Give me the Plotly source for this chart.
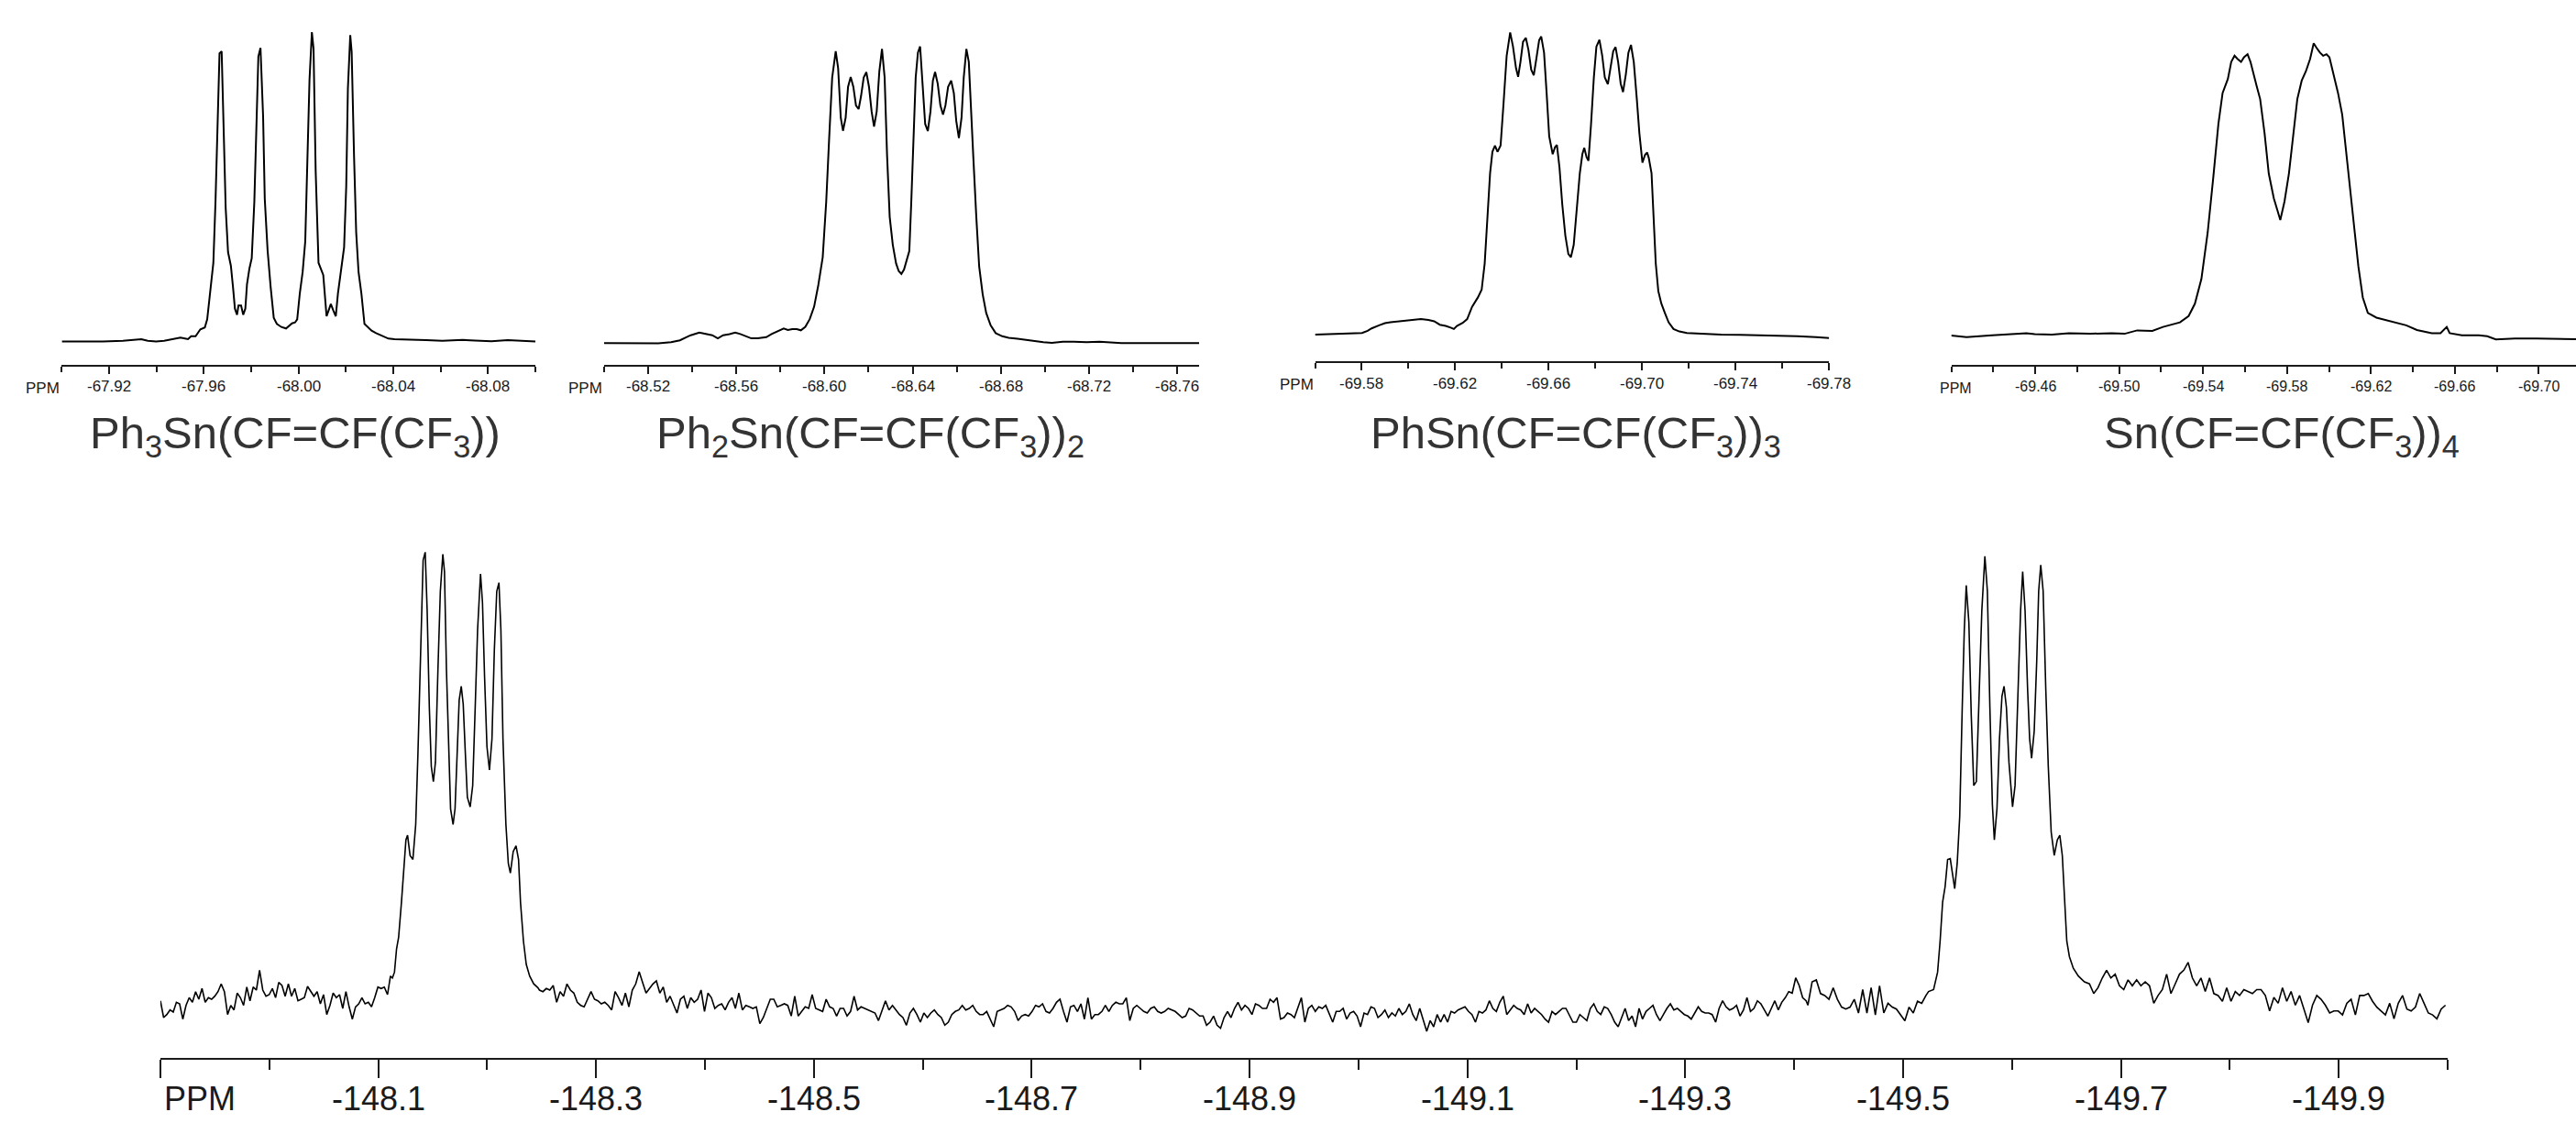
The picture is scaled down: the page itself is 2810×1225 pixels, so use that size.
import numpy as np
import plotly.graph_objects as go

# ---------------- data (ppm, intensity) ----------------
titles = ["Ph<sub>3</sub>Sn(CF=CF(CF<sub>3</sub>))",
          "Ph<sub>2</sub>Sn(CF=CF(CF<sub>3</sub>))<sub>2</sub>",
          "PhSn(CF=CF(CF<sub>3</sub>))<sub>3</sub>",
          "Sn(CF=CF(CF<sub>3</sub>))<sub>4</sub>"]

p1_ticks = [-67.92, -67.96, -68.00, -68.04, -68.08]
p1_labels = ["-67.92", "-67.96", "-68.00", "-68.04", "-68.08"]
p2_ticks = [-68.52, -68.56, -68.60, -68.64, -68.68, -68.72, -68.76]
p2_labels = ["-68.52", "-68.56", "-68.60", "-68.64", "-68.68", "-68.72", "-68.76"]
p3_ticks = [-69.58, -69.62, -69.66, -69.70, -69.74, -69.78]
p3_labels = ["-69.58", "-69.62", "-69.66", "-69.70", "-69.74", "-69.78"]
p4_ticks = [-69.46, -69.50, -69.54, -69.58, -69.62, -69.66, -69.70]
p4_labels = ["-69.46", "-69.50", "-69.54", "-69.58", "-69.62", "-69.66", "-69.70"]
bottom_ticks = [-147.9, -148.1, -148.3, -148.5, -148.7, -148.9, -149.1, -149.3, -149.5, -149.7, -149.9]
bottom_labels = ["PPM", "-148.1", "-148.3", "-148.5", "-148.7", "-148.9", "-149.1", "-149.3", "-149.5", "-149.7", "-149.9"]

p1_ppm = [-67.9000, -67.9084, -67.9173, -67.9258, -67.9308, -67.9336, -67.9363, -67.9398, -67.9432,
          -67.9475, -67.9501, -67.9520, -67.9533, -67.9546, -67.9565, -67.9585, -67.9604, -67.9614, -67.9627,
          -67.9640, -67.9649, -67.9658, -67.9666, -67.9675, -67.9684, -67.9692, -67.9702, -67.9714, -67.9723,
          -67.9731, -67.9740, -67.9746, -67.9757, -67.9766, -67.9775, -67.9782, -67.9792, -67.9802, -67.9813,
          -67.9821, -67.9830, -67.9839, -67.9850, -67.9857, -67.9869, -67.9882, -67.9895, -67.9908, -67.9927,
          -67.9947, -67.9959, -67.9972, -67.9985, -67.9994, -68.0005, -68.0017, -68.0028, -68.0037, -68.0046,
          -68.0056, -68.0063, -68.0072, -68.0084, -68.0104, -68.0110, -68.0118, -68.0127, -68.0136, -68.0146,
          -68.0157, -68.0166, -68.0175, -68.0192, -68.0201, -68.0208, -68.0218, -68.0224, -68.0234, -68.0243,
          -68.0253, -68.0265, -68.0278, -68.0291, -68.0308, -68.0327, -68.0353, -68.0379, -68.0405,
          -68.0468, -68.0538, -68.0607, -68.0693, -68.0745, -68.0814, -68.0883, -68.0953, -68.1000]
p1_int = [0, -0.3, 0, 0.7, 1.7, 2.4, 0.7, 0, 0.7,
          3.2, 4.2, 3.2, 2.5, 5.8, 5.8, 13.2, 15.2, 24.2, 52.5,
          85.8, 152.5, 235.8, 314.2, 316.5, 235.8, 145.8, 97.5, 82.5, 59.2,
          35.8, 29.2, 39.2, 39.2, 29.2, 35.8, 62.5, 79.2, 90.8, 152.5,
          225.8, 310.8, 320.2, 245.8, 155.8, 99.2, 59.2, 25.8, 19.2, 15.8,
          14.2, 16.5, 19.8, 20.8, 24.2, 52.5, 75.8, 109.2, 192.5, 285.8,
          337.5, 319.2, 185.8, 85.8, 72.5, 52.5, 27.5, 34.2, 40.8, 34.2,
          27.5, 52.5, 69.2, 102.5, 169.2, 275.8, 334.2, 315.8, 202.5, 119.2,
          75.8, 52.5, 19.2, 15.8, 11.8, 9.2, 5.8, 3.2, 2.5,
          1.7, 1.4, 0.7, 1.7, 1.0, 0.3, 1.4, 0.3, 0]

p2_ppm = [-68.5000, -68.5049, -68.5147, -68.5246, -68.5304, -68.5344, -68.5373, -68.5393, -68.5432, -68.5471,
          -68.5491, -68.5516, -68.5540, -68.5569, -68.5595, -68.5618, -68.5648, -68.5668, -68.5697, -68.5736,
          -68.5760, -68.5785, -68.5815, -68.5834, -68.5854, -68.5874, -68.5893, -68.5913, -68.5933, -68.5953,
          -68.5972, -68.5992, -68.6008, -68.6021, -68.6035, -68.6051, -68.6062, -68.6074, -68.6084, -68.6096,
          -68.6107, -68.6119, -68.6131, -68.6143, -68.6155, -68.6166, -68.6178, -68.6190, -68.6202, -68.6214,
          -68.6225, -68.6237, -68.6249, -68.6261, -68.6273, -68.6284, -68.6296, -68.6310, -68.6325, -68.6337,
          -68.6349, -68.6361, -68.6372, -68.6385, -68.6394, -68.6404, -68.6414, -68.6424, -68.6434, -68.6445,
          -68.6457, -68.6469, -68.6481, -68.6492, -68.6502, -68.6514, -68.6526, -68.6538, -68.6549, -68.6561,
          -68.6575, -68.6587, -68.6598, -68.6610, -68.6622, -68.6632, -68.6644, -68.6655, -68.6665, -68.6675,
          -68.6689, -68.6702, -68.6718, -68.6734, -68.6754, -68.6777, -68.6807, -68.6836, -68.6876, -68.6915,
          -68.6954, -68.6993, -68.7032, -68.7082, -68.7131, -68.7190, -68.7248, -68.7308, -68.7347, -68.7504, -68.7700]
p2_int = [0, 0, 0, -0.3, 1.0, 3.0, 6.4, 8.5, 11.5, 9.8,
          8.5, 5.1, 8.5, 9.8, 11.5, 9.8, 7.4, 5.1, 5.1, 6.4,
          9.8, 12.5, 15.9, 14.2, 15.2, 15.2, 13.9, 17.6, 26.0, 39.6,
          63.2, 93.6, 154.5, 222.1, 289.7, 318.4, 299.8, 245.7, 231.5, 245.7,
          279.5, 290.3, 279.5, 259.2, 255.2, 269.4, 289.7, 295.4, 279.5, 252.5,
          236.2, 252.5, 296.4, 320.8, 289.7, 205.1, 137.6, 107.1, 86.8, 78.4,
          75.4, 80.1, 90.2, 100.4, 154.5, 222.1, 289.7, 316.7, 323.5, 282.9,
          239.0, 231.2, 252.5, 286.3, 295.7, 282.9, 259.2, 249.1, 259.2, 279.5,
          286.3, 272.7, 242.3, 223.7, 245.7, 289.7, 320.8, 306.6, 262.6, 205.1,
          137.6, 83.5, 53.1, 32.8, 19.3, 10.8, 7.4, 5.7, 4.7, 3.4,
          2.4, 1.0, 0.3, 1.4, 1.4, 1.0, 1.4, 1.0, 0, 0, 0]

p3_ppm = [-69.5600, -69.5711, -69.5801, -69.5825, -69.5842, -69.5874, -69.5899, -69.5923, -69.5955, -69.5988,
          -69.6021, -69.6053, -69.6085, -69.6110, -69.6134, -69.6159, -69.6183, -69.6194, -69.6207, -69.6232,
          -69.6251, -69.6272, -69.6297, -69.6313, -69.6326, -69.6338, -69.6349, -69.6359, -69.6370, -69.6381,
          -69.6394, -69.6407, -69.6420, -69.6435, -69.6447, -69.6460, -69.6469, -69.6479, -69.6490, -69.6502,
          -69.6513, -69.6525, -69.6536, -69.6547, -69.6559, -69.6568, -69.6580, -69.6591, -69.6602, -69.6617,
          -69.6627, -69.6635, -69.6646, -69.6658, -69.6671, -69.6684, -69.6695, -69.6707, -69.6720, -69.6733,
          -69.6744, -69.6752, -69.6762, -69.6770, -69.6781, -69.6793, -69.6804, -69.6817, -69.6829, -69.6840,
          -69.6853, -69.6864, -69.6876, -69.6886, -69.6897, -69.6908, -69.6918, -69.6930, -69.6941, -69.6952,
          -69.6964, -69.6977, -69.6988, -69.7001, -69.7012, -69.7021, -69.7028, -69.7040, -69.7048, -69.7058,
          -69.7069, -69.7082, -69.7097, -69.7113, -69.7134, -69.7159, -69.7191, -69.7256, -69.7338, -69.7419,
          -69.7500, -69.7582, -69.7663, -69.7744, -69.7800]
p3_int = [0, 0.7, 1.7, 4.1, 6.8, 10.1, 12.5, 13.5, 14.5, 15.2,
          16.2, 16.9, 15.9, 14.5, 10.8, 9.5, 7.4, 6.1, 9.5, 12.8,
          16.9, 30.4, 40.6, 49.0, 77.7, 128.4, 175.8, 199.4, 206.2, 199.4,
          206.2, 253.5, 304.2, 329.6, 314.4, 290.7, 281.2, 297.4, 319.4, 323.8,
          310.9, 289.0, 282.9, 300.8, 321.1, 325.2, 307.6, 263.6, 216.3, 196.7,
          204.5, 206.9, 182.5, 142.0, 108.2, 87.9, 84.5, 98.0, 135.2, 175.8,
          197.0, 203.8, 193.6, 189.6, 229.2, 280.2, 314.1, 321.6, 304.2, 280.5,
          273.1, 290.7, 309.2, 313.7, 297.4, 273.8, 264.6, 283.9, 307.6, 316.0,
          297.4, 256.9, 219.7, 187.5, 196.0, 198.6, 192.9, 176.0, 128.4, 77.7,
          47.3, 33.8, 23.7, 13.5, 6.1, 3.4, 1.7, 0.7, 0, -0.3,
          -0.7, -1.0, -1.7, -2.7, -3.7]

p4_ppm = [-69.4200, -69.4273, -69.4395, -69.4476, -69.4558, -69.4598, -69.4680, -69.4761, -69.4863, -69.4965,
          -69.5026, -69.5086, -69.5158, -69.5209, -69.5290, -69.5331, -69.5361, -69.5392, -69.5422, -69.5449,
          -69.5473, -69.5493, -69.5518, -69.5534, -69.5550, -69.5564, -69.5581, -69.5595, -69.5612, -69.5626,
          -69.5640, -69.5656, -69.5672, -69.5693, -69.5713, -69.5737, -69.5768, -69.5788, -69.5809, -69.5829,
          -69.5849, -69.5870, -69.5890, -69.5910, -69.5927, -69.5941, -69.5957, -69.5972, -69.5988, -69.6002,
          -69.6022, -69.6043, -69.6063, -69.6083, -69.6114, -69.6140, -69.6161, -69.6185, -69.6226, -69.6307,
          -69.6368, -69.6419, -69.6490, -69.6531, -69.6547, -69.6561, -69.6575, -69.6633, -69.6714, -69.6754,
          -69.6795, -69.6886, -69.6988, -69.7104, -69.7177]
p4_int = [0, -1.7, 0.3, 1.7, 2.7, 1.7, 1.0, 2.7, 2.0, 2.7,
          2.0, 5.7, 5.1, 9.5, 14.5, 21.3, 34.8, 61.8, 112.6, 173.4,
          230.9, 264.7, 279.9, 298.5, 305.3, 301.9, 298.5, 303.6, 307.0, 298.5,
          285.0, 271.5, 258.0, 220.8, 176.8, 149.8, 126.1, 146.4, 176.8, 217.4,
          258.0, 278.2, 288.4, 301.9, 318.8, 313.8, 308.7, 305.3, 307.0, 303.6,
          284.9, 264.7, 241.0, 197.0, 129.4, 75.4, 41.6, 24.7, 19.6, 15.2,
          11.2, 6.1, 2.7, 2.7, 6.1, 9.5, 2.7, 0.3, 0.3, -0.7,
          -4.1, -3.2, -3.2, -3.9, -3.9]

# bottom spectrum: baseline noise segments (start ppm, end ppm, sampled values) and the two multiplets
noise_a_span = (-147.9, -148.1085)
noise_a = [8.3, -10, -6.7, -1.7, -4, 6.7, 5, -11.7, 3.3, 11.7, 6.7, 18.3, 10, 21.7, 6.7, 11.7, 10, 13.3,
           18.3, 26.7, 18.3, -6.7, 3.3, -1.7, 16.7, 11.7, 3.3, 23.3, 8.3, 23.3, 20, 41.7, 20, 13.3, 15, 21.7,
           11.7, 28.3, 25, 13.3, 26.7, 13.3, 21.7, 8.3, 10, 11.7, 24, 18.3, 13.3, 18.3, 5, 15, -6.7, 3.3,
           16.7, 11.7, 15, 0, 18.3, 1.7, -11.7, 1.7, 5, 11.7, 5, 6.7, 1.7, 11.7, 23.3, 21.7, 23.3, 15]

left_ppm = [-148.1112, -148.1130, -148.1149, -148.1168, -148.1187, -148.1213, -148.1236, -148.1254, -148.1269,
            -148.1292, -148.1318, -148.1344, -148.1364, -148.1382, -148.1397, -148.1412, -148.1431, -148.1449,
            -148.1469, -148.1487, -148.1506, -148.1525, -148.1548, -148.1570, -148.1593, -148.1608, -148.1626,
            -148.1646, -148.1664, -148.1687, -148.1705, -148.1724, -148.1743, -148.1762, -148.1780, -148.1800,
            -148.1818, -148.1844, -148.1867, -148.1890, -148.1912, -148.1939, -148.1957, -148.1976, -148.1998,
            -148.2021, -148.2044, -148.2066, -148.2088, -148.2108, -148.2126, -148.2145, -148.2172, -148.2194,
            -148.2213, -148.2239, -148.2265, -148.2288, -148.2306, -148.2333, -148.2359, -148.2390, -148.2427,
            -148.2465]
left_int = [35.3, 33.2, 39.6, 65, 77.7, 115.9, 158.3, 183.8, 188.9, 166.8, 162.5, 200.7, 277, 353.4, 434,
            489, 497.6, 434, 328, 264, 247.4, 268.6, 370, 455, 495.5, 476.4, 370, 285.5, 217.7, 200.7, 217.7,
            277, 336.4, 351.3, 332, 277, 230.4, 219.8, 243, 328, 412.8, 474, 442.5, 362, 285.5, 260, 294,
            391.6, 455, 464.4, 412.8, 294, 200.7, 158.3, 147.7, 171, 177.4, 162.5, 115.9, 73.5, 48, 35.3,
            26.8, 22.6]

noise_b1_span = (-148.2480, -148.4248)
noise_b1 = [20, 18.3, 21.7, 20, 25, 6.7, 18.3, 13.3, 26.7, 20, 16.7, 6.7, 3.3, 1.7, 10, 18.3, 10, 8.3, 5,
            6.7, 3.3, -1.7, 18.3, 11.7, 3.3, 16.7, 1.7, 20, 26.7, 40, 28.3, 16.7, 21.7, 26.7, 30, 16.7, 23.3,
            6.7, 13.3, 3.3, -5, 10, 13.3, 0, 11.7, 6.7, 10, 20, -3.3, 16.7, 11.7, 0, 3.3, 5, -1.7, 6.7, 11.7]
noise_b2_span = (-148.4279, -148.9118)
noise_b2 = [0, 16.7, -1.7, 3.3, 1.7, 0, 1.7, -16.7, -10, 0, 10, 10, 1.7, 3.3, 5, 3.3, -8.3, 13.3, -8.3,
            -3.3, 1.7, 0, 15, 0, -1.7, -3.3, 10, 1.7, 0, -8.3, 0, 0, -8.3, -3.3, 13.3, -1.7, 1.7, 0, -1.7,
            -3.3, -5, -13.3, -3.3, 8.3, -1.7, 3.3, -1.7, -6.7, -10, -18.3, -5, 0, -6.7, -15, -5, -10, -5,
            -1.7, -6.7, -10, -18.3, -15, -6.7, -3.3, -1.7, 3.3, -1.7, 0, 3.3, -3.3, -6.7, -6.7, -3.3, -11.7,
            -20, -3.3, -1.7, 0, 3.3, 1.7, -3.3, -13.3, -8.3, -6.7, -8.3, -3.3, 3.3, 1.7, 5, -3.3, -5, 0, 6.7,
            10, -3.3, -15, 1.7, 3.3, -3.3, 5, -11.7, 11.7, -11.7, -6.7, -6.7, -3.3, 3.3, -3.3, 3.3, 6.7, 5,
            5, 11.7, -13.3, 0, 3.3, 0, -3.3, -5, 0, 1.7, -3.3, -5, -3.3, 0, -1.7, -3.3, -6.7, -10, -8.3, 0,
            -1.7, -5, -8.3, -8.3, -18.3, -15, -8.3, -18.3, -21.7, -10, -3.3, -10, 0, 6.7, -1.7, 3.3, 0, -6.7,
            5, 3.3, 0]
noise_b3_span = (-148.9156, -149.4110)
noise_b3 = [0, 10, 6.7, 11.7, -11.7, -10, -5, -6.7, -10, 1.7, 11.7, -15, 0, 3.3, -3.3, 1.7, 0, 3.3, -6.7,
            -15, -3.3, -3.3, 0, -11.7, -5, -3.3, -8.3, -20, -5, -6.7, 1.7, 0, -10, -6.7, -1.7, -10, -5, -8.3,
            0, -6.7, -3.3, 5, -6.7, -13.3, 0, -13.3, -25, -13.3, -20, -6.7, -15, -6.7, -15, -3.3, -5, -1.7,
            0, 1.7, -3.3, -6.7, -15, -3.3, -5, -1.7, 8.3, 0, -3.3, 6.7, 13.3, -6.7, -1.7, 3.3, 0, -1.7, -6.7,
            5, -5, 0, -3.3, -6.7, -11.7, -15, -3.3, -6.7, -3.3, 0, 0, -8.3, -15, -15, -6.7, -10, -13.3, 0, 5,
            -3.3, -6.7, 1.7, 0, -6.7, -15, -20, -10, 0, -13.3, -8.3, -20, 0, -11.7, -3.3, 0, 3.3, -6.7, -13.3,
            -6.7, 0, 5, -1.7, 0, -3.3, -6.7, -8.3, -11.7, -5, 1.7, -3.3, -5, -5, -6.7, -15, 0, 8.3, 1.7, -1.7,
            0, 3.3, -8.3, -1.7, 11.7, -3.3, 0, 8.3, 5, -1.7, -8.3, 0, 8.3, -1.7, 6.7, 11.7, 18.3, 16.7, 33.3,
            25, 11.7, 8.3]
noise_b4_span = (-149.4126, -149.5210)
noise_b4 = [3.5, 29, 31.1, 16.2, 14.1, 9.9, 22.6, 9.9, 1.4, -0.7, 1.4, 9.9, -5, 20.5, -5, 22.6, -7.1, 24.7,
            -5, 5.6, 1.4, -0.7, -7.1, -13.5, 1.4, -5, 7.8, 5.6, 14.1]

right_ppm = [-149.5234, -149.5280, -149.5317, -149.5340, -149.5363, -149.5386, -149.5409, -149.5433, -149.5455,
             -149.5474, -149.5497, -149.5520, -149.5543, -149.5562, -149.5580, -149.5604, -149.5626, -149.5649,
             -149.5673, -149.5695, -149.5723, -149.5751, -149.5774, -149.5797, -149.5820, -149.5838, -149.5862,
             -149.5885, -149.5908, -149.5927, -149.5949, -149.5972, -149.6005, -149.6028, -149.6056, -149.6079,
             -149.6098, -149.6120, -149.6143, -149.6162, -149.6180, -149.6204, -149.6227, -149.6245, -149.6264,
             -149.6286, -149.6310, -149.6333, -149.6360, -149.6388, -149.6416, -149.6439, -149.6462, -149.6481,
             -149.6503, -149.6527, -149.6563, -149.6609, -149.6665]
right_int = [18.4, 20.5, 39.6, 73.5, 115.9, 132.9, 162.5, 163.4, 143.5, 130.7, 158.3, 209.2, 328, 412.8, 461.5,
             421.3, 319.5, 243.1, 247.4, 328, 434, 493.3, 455.2, 328, 222, 183.8, 217.7, 294, 340.7, 351.3, 328,
             268.6, 219.8, 243.1, 349.2, 434, 476.4, 434, 349.2, 294, 272.8, 302.5, 378.8, 455.2, 483.6, 455.2,
             349.2, 264.3, 192.2, 166.8, 183.8, 188.9, 166.8, 115.9, 73.5, 56.5, 43.8, 35.3, 29]

noise_c_span = (-149.6711, -149.9980)
noise_c = [26.8, 16.2, 22.6, 33.2, 41.7, 33.2, 37.4, 24.7, 20.5, 31.1, 24.7, 31.1, 24.7, 29, 24.7, 5.6, 14.1,
           20.5, 37.4, 16.2, 26.8, 37.4, 41.7, 50.2, 33.2, 24.7, 33.2, 18.4, 33.2, 16.2, 14.1, 7.8, 22.6, 7.8,
           18.4, 14.1, 20.5, 18.4, 16.2, 20.5, 20.5, 14.1, -2.8, 12, 5.6, 22.6, 7.8, 18.4, 3.5, 14.1, -0.7,
           -15.6, 3.5, 14.1, 9.9, 3.5, -5, -2.8, -2.8, -7.1, 5.6, 9.9, -7.1, 14.1, 14.1, 16.2, 7.8, 1.4, -2.8,
           -7.1, 5.6, -11.3, 5.6, 14.1, -0.7, -2.8, 1.4, 16.2, 5.6, -5, -7.1, -11.3, -0.7, 3.5]

# ---------------- assemble bottom spectrum ----------------
def seg(span, vals):
    return list(np.linspace(span[0], span[1], len(vals))), list(vals)

parts = [seg(noise_a_span, noise_a), (left_ppm, left_int),
         seg(noise_b1_span, noise_b1), seg(noise_b2_span, noise_b2),
         seg(noise_b3_span, noise_b3), seg(noise_b4_span, noise_b4),
         (right_ppm, right_int), seg(noise_c_span, noise_c)]
bot_ppm, bot_int = [], []
for px, py in parts:
    bot_ppm += list(px)
    bot_int += list(py)

# ---------------- figure ----------------
W, H = 2810, 1225
FONT = "Liberation Sans, Arial, Helvetica, sans-serif"
AX = "#1a1a1a"
LINE = "#000000"
TITLE_C = "#333333"

def fx(px):
    return px / W

def fy(py):
    return 1 - py / H

fig = go.Figure()
series = [(p1_ppm, p1_int, "x", "y", 2.0), (p2_ppm, p2_int, "x2", "y2", 2.0),
          (p3_ppm, p3_int, "x3", "y3", 2.0), (p4_ppm, p4_int, "x4", "y4", 2.0),
          (bot_ppm, bot_int, "x5", "y5", 1.6)]
for xs, ys, xa, ya, lw in series:
    fig.add_trace(go.Scatter(x=xs, y=ys, xaxis=xa, yaxis=ya, mode="lines",
                             line=dict(color=LINE, width=lw), hoverinfo="skip", showlegend=False))

def small_x(dom, rng, tv, t0, anchor):
    return dict(domain=dom, range=rng, anchor=anchor, showline=True, linecolor=AX, linewidth=2,
                ticks="outside", ticklen=8, tickwidth=2, tickcolor=AX,
                tickmode="array", tickvals=tv, showticklabels=False,
                showgrid=False, zeroline=False, fixedrange=True, automargin=False,
                minor=dict(tickmode="linear", tick0=t0, dtick=0.02, ticks="outside",
                           ticklen=6, tickwidth=2, tickcolor=AX, showgrid=False))

def hidden_y(dom, rng, anchor):
    return dict(domain=dom, range=rng, anchor=anchor, visible=False, fixedrange=True)

layout = dict(
    width=W, height=H, autosize=False,
    margin=dict(l=0, r=0, t=0, b=0, pad=0, autoexpand=False),
    paper_bgcolor="white", plot_bgcolor="white", showlegend=False,
    font=dict(family=FONT, color=AX),
    xaxis=small_x([fx(67.4), fx(584.1)], [-67.90, -68.10], p1_ticks, -67.90, "y"),
    yaxis=hidden_y([fy(398), fy(20)], [-25.5, 352.5], "x"),
    xaxis2=small_x([fx(659), fx(1308)], [-68.50, -68.77], p2_ticks, -68.50, "y2"),
    yaxis2=hidden_y([fy(398), fy(20)], [-23.8, 354.2], "x2"),
    xaxis3=small_x([fx(1434.5), fx(1995.3)], [-69.56, -69.78], p3_ticks, -69.56, "y3"),
    yaxis3=hidden_y([fy(393.8), fy(20)], [-28.8, 345.0], "x3"),
    xaxis4=small_x([fx(2128.5), 1.0], [-69.42, -69.7177], p4_ticks, -69.42, "y4"),
    yaxis4=hidden_y([fy(398), fy(20)], [-31.9, 346.1], "x4"),
    xaxis5=dict(domain=[fx(175), fx(2670)], range=[-147.9, -150.0], anchor="y5",
                showline=True, linecolor=AX, linewidth=2,
                ticks="outside", ticklen=20, tickwidth=2, tickcolor=AX,
                tickmode="array", tickvals=bottom_ticks, showticklabels=False,
                showgrid=False, zeroline=False, fixedrange=True, automargin=False,
                minor=dict(tickmode="linear", tick0=-147.9, dtick=0.1, ticks="outside",
                           ticklen=11, tickwidth=2, tickcolor=AX, showgrid=False)),
    yaxis5=hidden_y([fy(1153.7), fy(590)], [-53.7, 510], "x5"),
)
fig.update_layout(**layout)

ann = []
# compound titles under the small panels
title_x = [322, 949, 1719, 2488.5]
for t, cx in zip(titles, title_x):
    ann.append(dict(text=t, x=fx(cx), y=fy(475), xref="paper", yref="paper",
                    xanchor="center", yanchor="middle", showarrow=False,
                    font=dict(size=49, color=TITLE_C, family=FONT)))

# tick labels of the small panels (placed at their tick values on each axis)
small_sets = [("x", p1_ticks, p1_labels, 421, 17), ("x2", p2_ticks, p2_labels, 421, 17),
              ("x3", p3_ticks, p3_labels, 418, 17), ("x4", p4_ticks, p4_labels, 421, 16)]
for xr, tv, tl, py, fs in small_sets:
    for v, s in zip(tv, tl):
        ann.append(dict(text=s, x=v, y=fy(py), xref=xr, yref="paper",
                        xanchor="center", yanchor="middle", showarrow=False,
                        font=dict(size=fs, color=AX, family=FONT)))

# "PPM" unit label at the start of each small axis
ppm_pos = [(67.4, 424, "right", 17), (659, 424, "right", 17), (1434.5, 419, "right", 17), (2133.5, 424, "center", 16)]
for px, py, anc, fs in ppm_pos:
    ann.append(dict(text="PPM", x=fx(px), y=fy(py), xref="paper", yref="paper",
                    xanchor=anc, yanchor="middle", showarrow=False,
                    font=dict(size=fs, color=AX, family=FONT)))

# bottom axis labels; the first tick carries the unit label, set to the right of the tick
for v, s in zip(bottom_ticks, bottom_labels):
    ann.append(dict(text=s, x=v, y=fy(1198), xref="x5", yref="paper",
                    xanchor="left" if s == "PPM" else "center", xshift=2 if s == "PPM" else 0,
                    yanchor="middle", showarrow=False,
                    font=dict(size=36, color=AX, family=FONT)))
fig.update_layout(annotations=ann)

fig.write_html("out.html", include_plotlyjs=True, full_html=True,
               config={"displayModeBar": False, "staticPlot": True},
               post_script="document.body.style.margin='0';document.body.style.overflow='hidden';")
